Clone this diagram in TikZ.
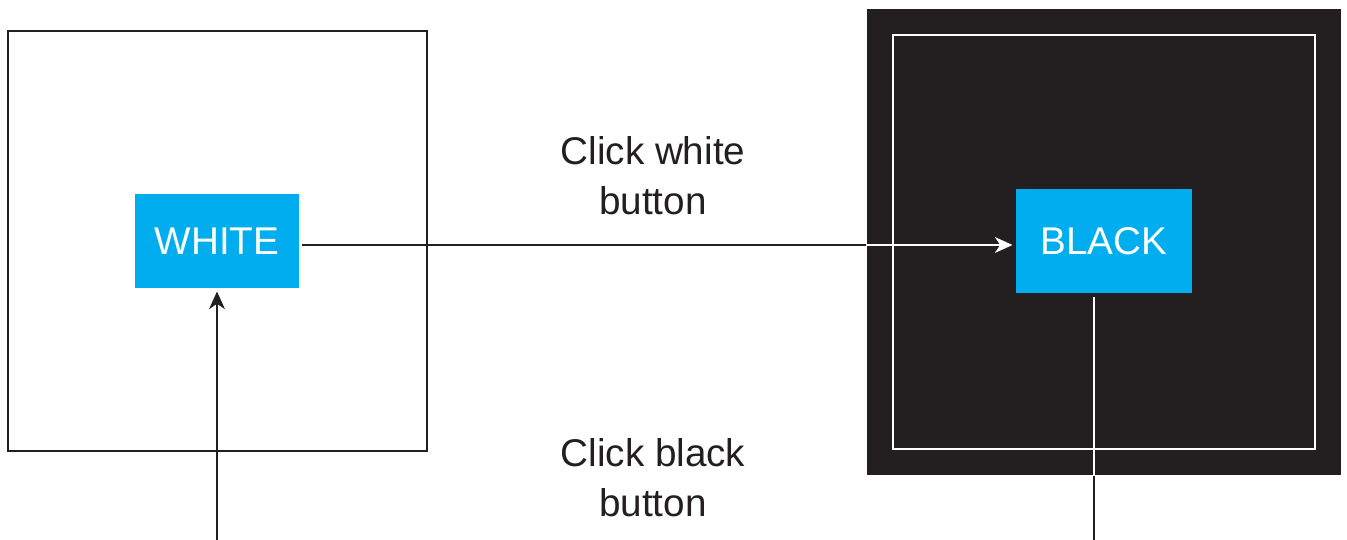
\documentclass[tikz,border=0pt]{standalone}
\usepackage{fontspec}
\setmainfont{Liberation Sans}
\usetikzlibrary{arrows.meta}
\definecolor{btnblue}{HTML}{00AEEF}
\definecolor{darkpanel}{HTML}{231F20}

\begin{document}
\begin{tikzpicture}[x=0.02cm, y=-0.02cm, line width=1.1pt,
  button/.style={fill=btnblue, text=white, inner sep=0pt, outer sep=2pt},
  caption/.style={align=center, text=darkpanel, font=\fontsize{22}{28.4}\selectfont},
  tip/.style={-{Stealth[length=10pt, width=9pt, inset=3pt]}}]
\useasboundingbox (0,0) rectangle (1347,540);

% white page
\node[draw=darkpanel, minimum width=8.38cm, minimum height=8.4cm] (whitepage) at (217.5,241) {};
\node[button, minimum width=3.28cm, minimum height=1.88cm, font=\fontsize{22}{26}\selectfont] (white) at (217,241) {WHITE};

% black page
\node[fill=darkpanel, minimum width=9.48cm, minimum height=9.32cm] (blackpage) at (1104,242) {};
\node[draw=white, minimum width=8.44cm, minimum height=8.28cm] (blackframe) at (1104,242) {};
\node[button, minimum width=3.52cm, minimum height=2.08cm, font=\fontsize{22}{26}\selectfont] (black) at (1104,241) {BLACK};

% transitions
\node[caption] (clickwhite) at (653,176) {Click white\\button};
\node[caption] (clickblack) at (653,478) {Click black\\button};

\coordinate (crossing) at ([yshift=-0.08cm]white.east -| blackpage.west);
\draw[darkpanel] ([yshift=-0.08cm]white.east) -- (crossing);
\draw[white, tip] (crossing) -- (crossing -| black.west);

\coordinate (whitein) at (217,540);
\coordinate (blackout) at (1094,540);
\draw[darkpanel, tip] (whitein) -- (whitein |- white.south);
\draw[white] (blackout |- black.south) -- (blackout |- blackpage.south);
\draw[darkpanel] (blackout |- blackpage.south) -- (blackout);
\end{tikzpicture}
\end{document}
